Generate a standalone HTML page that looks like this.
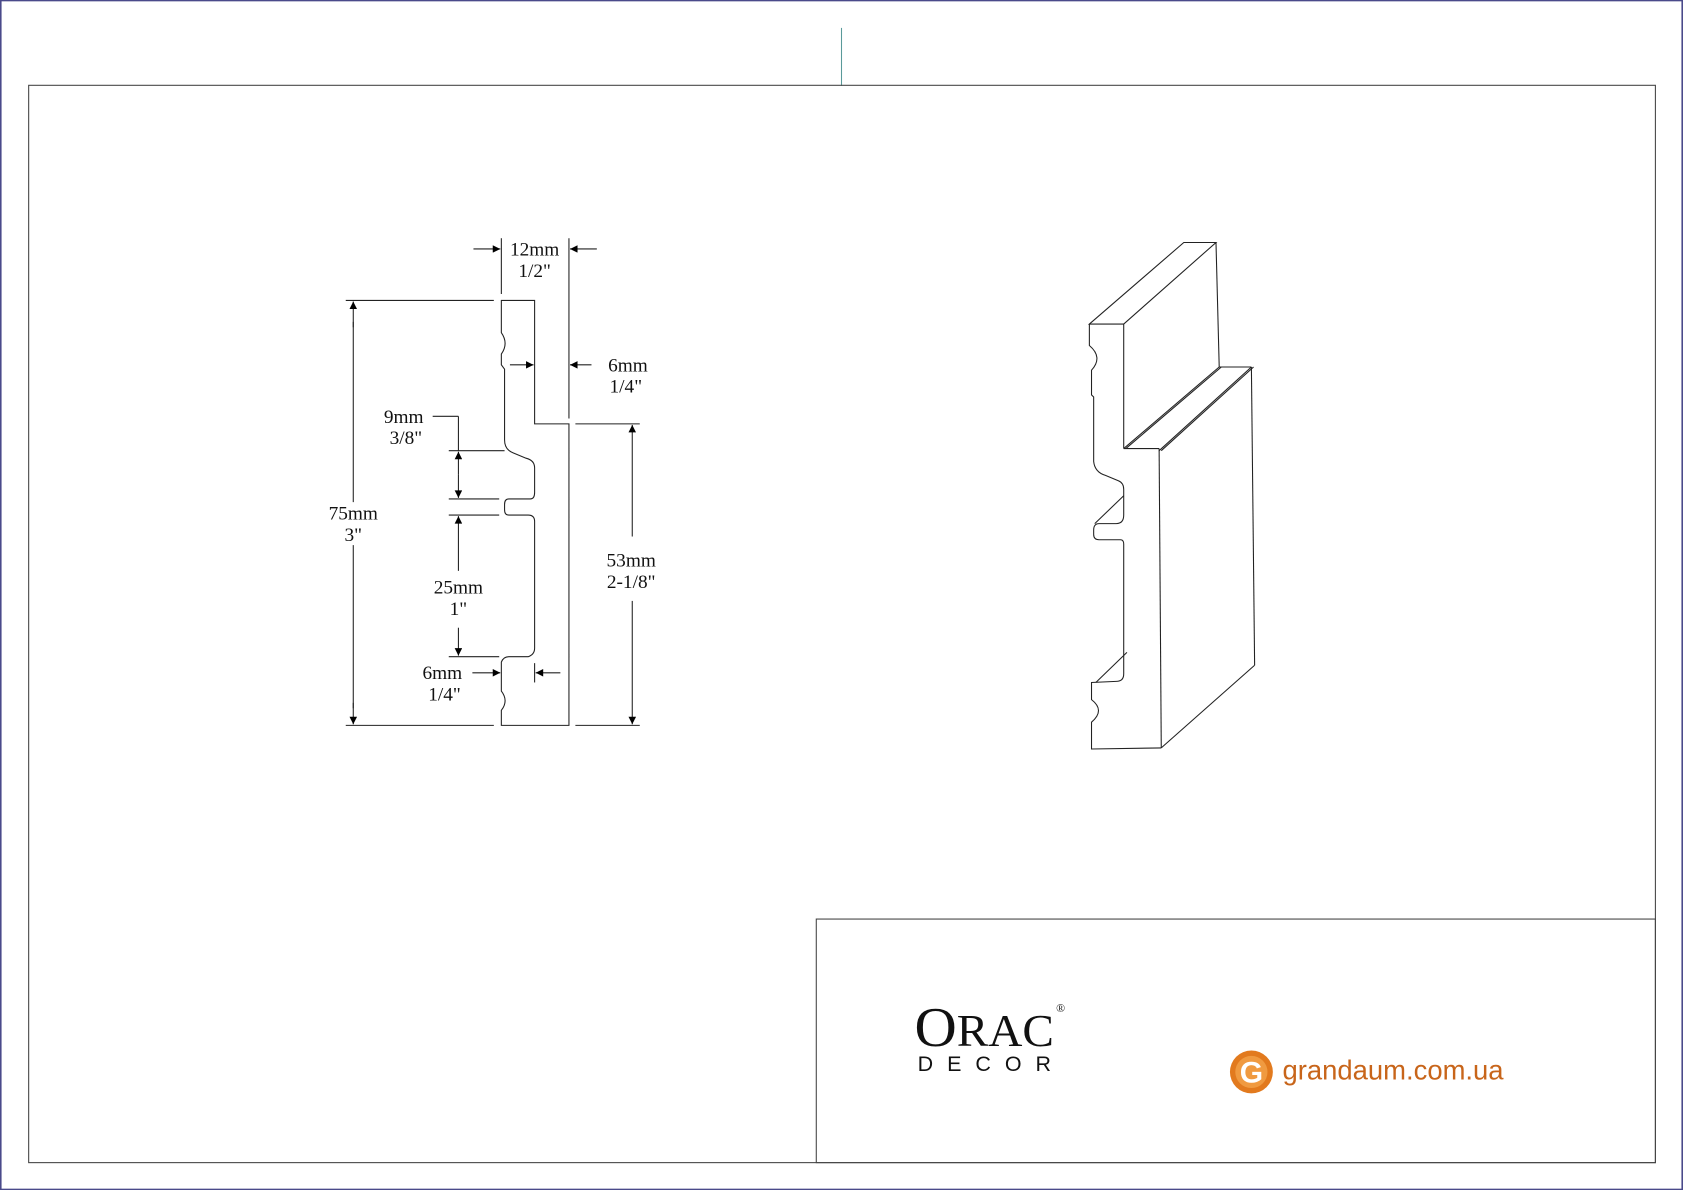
<!DOCTYPE html>
<html><head><meta charset="utf-8">
<style>
html,body{margin:0;padding:0;background:#fff;}
svg{display:block;}
text{font-family:"Liberation Serif",serif;fill:#111;}
</style></head>
<body>
<svg width="1683" height="1190" viewBox="0 0 1568 1109" xmlns="http://www.w3.org/2000/svg">
<defs>
<marker id="a" viewBox="0 0 10 10" refX="10" refY="5" markerWidth="20" markerHeight="7" orient="auto" markerUnits="userSpaceOnUse">
<path d="M0,0 L10,5 L0,10 z" fill="#000"/></marker>
</defs>
<rect x="0.5" y="0.5" width="1567" height="1108" fill="#fff" stroke="#4a4a8a" stroke-width="1.5"/>
<line x1="784" y1="26" x2="784" y2="80" stroke="#5a9a9a" stroke-width="1"/>
<rect x="26.5" y="79.5" width="1516" height="1004" fill="none" stroke="#444" stroke-width="1"/>
<rect x="760.5" y="856.5" width="782" height="227" fill="none" stroke="#444" stroke-width="1"/>

<g fill="none" stroke="#222" stroke-width="1">
<path d="M467,280 L498,280 L498,395 L530,395 L530,676 L467,676 L467,662 Q474,653 467,644 L467,617 Q469,612 474,612 L492,612 Q498,610 498,604 L498,486 Q498,480 492,480 L474,480 Q470,480 470,475 L470,470 Q470,465 474,465 L494,465 Q498,465 498,459 L498,436 Q498,429 490,427 L478,422 Q470,419 470,410 L470,344 L467,340 L467,330 Q474,320 467,310 Z"/>
<line x1="467" y1="222" x2="467" y2="274"/>
<line x1="530" y1="222" x2="530" y2="390"/>
<line x1="322" y1="280" x2="460" y2="280"/>
<line x1="322" y1="676" x2="460" y2="676"/>
<line x1="536" y1="395" x2="596" y2="395"/>
<line x1="536" y1="676" x2="596" y2="676"/>
<line x1="418" y1="420" x2="470" y2="420"/>
<line x1="418" y1="465" x2="465" y2="465"/>
<line x1="418" y1="480" x2="465" y2="480"/>
<line x1="418" y1="612" x2="465" y2="612"/>
<line x1="498" y1="618" x2="498" y2="636"/>
<line x1="403" y1="388" x2="427" y2="388"/>
<line x1="427" y1="388" x2="427" y2="420"/>
<line x1="329" y1="305" x2="329" y2="281" marker-end="url(#a)"/>
<line x1="329" y1="655" x2="329" y2="675" marker-end="url(#a)"/>
<line x1="329" y1="300" x2="329" y2="468"/><line x1="329" y1="508" x2="329" y2="660"/>
<line x1="589" y1="500" x2="589" y2="396" marker-end="url(#a)"/>
<line x1="589" y1="560" x2="589" y2="675" marker-end="url(#a)"/>
<line x1="441" y1="232" x2="466" y2="232" marker-end="url(#a)"/>
<line x1="556" y1="232" x2="531" y2="232" marker-end="url(#a)"/>
<line x1="475" y1="340" x2="497" y2="340" marker-end="url(#a)"/>
<line x1="551" y1="340" x2="531" y2="340" marker-end="url(#a)"/>
<line x1="427" y1="442" x2="427" y2="421" marker-end="url(#a)"/>
<line x1="427" y1="442" x2="427" y2="464" marker-end="url(#a)"/>
<line x1="427" y1="532" x2="427" y2="481" marker-end="url(#a)"/>
<line x1="427" y1="585" x2="427" y2="611" marker-end="url(#a)"/>
<line x1="440" y1="627" x2="466" y2="627" marker-end="url(#a)"/>
<line x1="522" y1="627" x2="499" y2="627" marker-end="url(#a)"/>

<path d="M1015,302 L1103,226 L1133,226 L1047,302 Z"/>
<line x1="1047" y1="302" x2="1047" y2="418"/>
<line x1="1133" y1="226" x2="1136" y2="342"/>
<line x1="1047" y1="418" x2="1080" y2="418"/>
<line x1="1047" y1="418" x2="1136" y2="342"/>
<line x1="1049" y1="418" x2="1138" y2="342"/>
<line x1="1136" y1="342" x2="1166" y2="342"/>
<line x1="1080" y1="420" x2="1166" y2="342"/>
<line x1="1082" y1="420" x2="1168" y2="342"/>
<line x1="1080" y1="418" x2="1082" y2="697"/>
<line x1="1166" y1="342" x2="1169" y2="620"/>
<line x1="1082" y1="697" x2="1169" y2="620"/>
<path d="M1015,302 L1015,322 Q1028,333 1017,345 L1017,368 L1019,370 L1019,430 Q1020,440 1030,443 L1042,448 Q1047,450 1047,456 L1047,480 Q1047,488 1040,488 L1024,488 Q1019,488 1019,494 L1019,498 Q1019,503 1024,503 L1044,503 Q1047,503 1047,507 L1047,628 Q1047,635 1040,635 L1017,636 L1017,652 Q1030,662 1017,673 L1017,698 L1082,697"/>
<line x1="1047" y1="462" x2="1020" y2="488"/>
<line x1="1050" y1="608" x2="1021" y2="636"/>
</g>

<g font-size="18" text-anchor="middle">
<text x="498" y="238">12mm</text><text x="498" y="258">1/2"</text>
<text x="585" y="346">6mm</text><text x="583" y="366">1/4"</text>
<text x="376" y="394">9mm</text><text x="378" y="414">3/8"</text>
<text x="329" y="484">75mm</text><text x="329" y="504">3"</text>
<text x="427" y="553">25mm</text><text x="427" y="573">1"</text>
<text x="588" y="528">53mm</text><text x="588" y="548">2-1/8"</text>
<text x="412" y="633">6mm</text><text x="414" y="653">1/4"</text>
</g>

<text x="852" y="975" font-size="52" textLength="130" lengthAdjust="spacingAndGlyphs" fill="#222">O<tspan font-size="42">RAC</tspan></text>
<text x="984" y="943" font-size="11" fill="#222">®</text>
<text x="855" y="998" font-size="20" letter-spacing="13" style="font-family:'Liberation Sans',sans-serif" fill="#222">DECOR</text>
<circle cx="1166" cy="999" r="20" fill="#e27a1e"/>
<circle cx="1166" cy="999" r="15" fill="#f09a40"/>
<text x="1166" y="1009" font-size="28" font-weight="bold" text-anchor="middle" style="font-family:'Liberation Sans',sans-serif;fill:#fff">G</text>
<text x="1195" y="1006" font-size="26" textLength="206" lengthAdjust="spacingAndGlyphs" style="font-family:'Liberation Sans',sans-serif;fill:#c8651a">grandaum.com.ua</text>
</svg>
</body></html>
